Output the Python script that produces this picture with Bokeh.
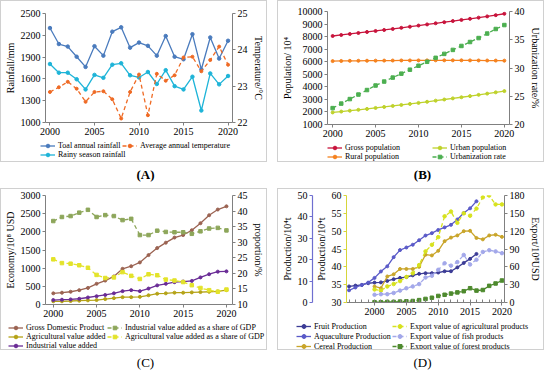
from bokeh.plotting import figure
from bokeh.models import (Range1d, LinearAxis, Legend, LegendItem, FixedTicker,
                          Div, SingleIntervalTicker)
from bokeh.layouts import row, column
from bokeh.embed import file_html
from bokeh.resources import INLINE

FONT = "Liberation Serif"

years = [2000, 2001, 2002, 2003, 2004, 2005, 2006, 2007, 2008, 2009, 2010,
         2011, 2012, 2013, 2014, 2015, 2016, 2017, 2018, 2019, 2020]
years_d = [1996, 1997, 1998, 1999, 2000, 2001, 2002, 2003, 2004, 2005, 2006,
           2007, 2008, 2009, 2010, 2011, 2012, 2013, 2014, 2015, 2016]

total_rain = [2300, 2080, 2045, 1905, 1765, 2050, 1920, 2250, 2310, 2030, 2100,
              2055, 1920, 2190, 1905, 1870, 2215, 1730, 2170, 1880, 2125]
rainy_rain = [1805, 1685, 1685, 1595, 1455, 1655, 1615, 1795, 1815, 1650, 1620,
              1695, 1530, 1720, 1500, 1455, 1630, 1165, 1675, 1525, 1640]
avg_temp = [22.84, 22.97, 23.12, 22.93, 22.57, 22.84, 22.86, 22.64, 22.11, 22.84, 23.32,
            22.20, 23.34, 23.15, 23.30, 23.79, 23.81, 23.41, 23.72, 24.09, 23.59]

gross_pop = [8050, 8130, 8210, 8290, 8370, 8450, 8530, 8610, 8700, 8790, 8880,
             8970, 9060, 9150, 9240, 9330, 9420, 9510, 9610, 9710, 9820]
rural_pop = [6050, 6060, 6070, 6075, 6080, 6085, 6090, 6095, 6100, 6100, 6105,
             6105, 6110, 6110, 6110, 6110, 6105, 6100, 6095, 6090, 6085]
urban_pop = [1960, 2030, 2100, 2170, 2240, 2320, 2400, 2480, 2560, 2640, 2720,
             2810, 2900, 2990, 3080, 3170, 3260, 3360, 3460, 3560, 3660]
urban_rate = [22.9, 23.7, 24.5, 25.3, 26.1, 26.9, 27.6, 28.3, 29.0, 29.7, 30.4,
              31.1, 31.8, 32.5, 33.2, 33.9, 34.6, 35.3, 36.1, 36.9, 37.6]

gdp = [307, 325, 351, 395, 456, 570, 658, 772, 982, 1053, 1158,
       1360, 1553, 1702, 1842, 1912, 2044, 2237, 2456, 2614, 2702]
agri_va = [88, 88, 96, 105, 114, 123, 149, 175, 202, 202, 210,
           254, 298, 307, 325, 325, 333, 342, 351, 360, 395]
ind_va = [123, 132, 140, 158, 193, 228, 263, 307, 368, 395, 368,
          439, 526, 570, 614, 632, 649, 746, 833, 904, 912]
ind_share = [36.8, 38.1, 38.4, 39.5, 40.4, 38.1, 38.7, 38.4, 37.1, 37.5, 32.3,
             32.3, 33.7, 33.3, 33.2, 33.2, 32.7, 33.5, 34.4, 34.6, 33.8]
agri_share = [24.5, 23.3, 23.1, 22.6, 21.8, 19.5, 18.5, 18.7, 20.4, 19.2, 18.2,
              19.7, 19.4, 18.0, 17.7, 17.2, 16.2, 15.3, 14.6, 14.1, 14.8]

fruit_prod = [7.5, 7.9, 8.2, 9.0, 9.3, 9.4, 10.1, 10.9, 11.5, 11.9, 12.7,
              13.4, 13.7, 13.7, 14.0, 14.6, 14.6, 16.4, 18.5, 20.4, 22.7]
aqua_prod = [5.7, 7.0, 8.2, 9.3, 11.5, 14.5, 16.9, 21.2, 24.5, 25.7, 27.0,
             29.1, 31.3, 32.4, 33.9, 35.1, 36.3, 38.8, 41.8, 44.0, 47.3]
cereal_prod = [34.5, 34.0, 37.3, 37.9, 39.4, 39.4, 39.4, 40.0, 43.4, 43.2, 44.5,
               47.2, 48.2, 48.8, 50.0, 50.1, 48.1, 47.7, 48.8, 49.0, 48.4]
agri_export = [22, 20, 27, 31, 36, 43, 49, 63, 86, 97, 110,
               145, 153, 134, 150, 146, 158, 177, 180, 165, 165]
fish_export = [13, 14, 14, 16, 20, 24, 27, 31, 42, 45, 55,
               66, 62, 68, 80, 64, 72, 85, 88, 86, 83]
forest_export = [0.5, 0.5, 1, 1, 1.5, 2, 2.5, 4, 6, 8, 11,
                 13, 15, 17, 19, 24, 20, 21, 28, 32, 37]

AX = "#808080"
W = 265
BOX_H = 160


def no_align(f):
    try:
        f.frame_align = False
    except Exception:
        pass


def style_axis(ax, ticks=None, line_color=AX):
    ax.axis_line_color = line_color
    ax.major_tick_line_color = line_color
    ax.minor_tick_line_color = None
    ax.major_tick_out = 3
    ax.major_tick_in = 0
    ax.major_label_standoff = 2
    ax.major_label_text_font = FONT
    ax.major_label_text_font_size = "10px"
    ax.major_label_text_color = "black"
    ax.axis_label_text_font = FONT
    ax.axis_label_text_font_size = "10px"
    ax.axis_label_text_font_style = "normal"
    ax.axis_label_text_color = "black"
    ax.axis_label_standoff = 2
    if ticks is not None:
        ax.ticker = FixedTicker(ticks=ticks)


def right_axis(p, rng, label, ticks):
    ax = LinearAxis(y_range_name=rng, axis_label=label)
    style_axis(ax, ticks)
    p.add_layout(ax, "right")
    return ax


def make_fig(xr, yr, height, min_top):
    p = figure(width=W, height=height, x_range=xr, y_range=yr,
               output_backend="svg", toolbar_location=None,
               min_border_top=min_top, min_border_bottom=0,
               min_border_left=5, min_border_right=5)
    p.xgrid.visible = False
    p.ygrid.visible = False
    p.outline_line_color = None
    no_align(p)
    return p


def series(p, x, y, color, dash="solid", marker="circle", size=3.5, rng="default"):
    p.line(x, y, line_color=color, line_width=1.3, line_dash=dash, y_range_name=rng)
    p.scatter(x, y, marker=marker, size=size, fill_color=color, line_color=color,
              y_range_name=rng)


def legend_fig(height, columns, rowh=9):
    """columns: list of (x_px, [(label, xs, ys, color, dash, marker, size), ...])
    The legend keys are the real series drawn in a frame whose range (0..1) keeps
    them out of view; only the legend shows."""
    lf = figure(width=W, height=height, x_range=Range1d(0, 1), y_range=Range1d(0, 1),
                output_backend="svg", toolbar_location=None,
                x_axis_type=None, y_axis_type=None,
                min_border_left=0, min_border_right=0,
                min_border_top=0, min_border_bottom=0)
    lf.xgrid.visible = False
    lf.ygrid.visible = False
    lf.outline_line_color = None
    no_align(lf)
    for x_px, entries in columns:
        items = []
        for label, xs, ys, color, dash, marker, size in entries:
            l = lf.line(xs, ys, line_color=color, line_width=1.3, line_dash=dash)
            s = lf.scatter(xs, ys, marker=marker, size=size, fill_color=color,
                           line_color=color)
            items.append(LegendItem(label=label, renderers=[l, s]))
        lg_h = 2 + rowh * len(entries)
        lg = Legend(items=items, location=(x_px, height - 2 - lg_h),
                    orientation="vertical",
                    glyph_width=15, glyph_height=rowh, label_height=rowh,
                    label_standoff=3, spacing=0, padding=1, margin=0,
                    label_text_font=FONT, label_text_font_size="8px",
                    label_text_color="black",
                    background_fill_alpha=0, border_line_color=None)
        lf.add_layout(lg)
    return lf


def panel(p, lf, cap, bold=True):
    box = column(p, column(lf), styles={"border": "1px solid #d0d0d0"})
    w = "bold" if bold else "normal"
    c = Div(text=f"<div style=\"width:253px;margin-left:14px;text-align:center;"
                 f"font-family:'Liberation Serif';font-size:13px;font-weight:{w};"
                 f"line-height:16px\">{cap}</div>",
            width=W + 2, height=16)
    return column(box, c)


# ---------------- (A) ----------------
C_TOT, C_RAIN, C_TMP = "#4a7bbd", "#1eb4d8", "#ef6a24"
LA = 24
pa = make_fig(Range1d(1999.5, 2020.5), Range1d(1000, 2500), BOX_H - LA, 12)
pa.extra_y_ranges = {"t": Range1d(22, 25)}
style_axis(pa.xaxis[0], [2000, 2005, 2010, 2015, 2020])
style_axis(pa.yaxis[0], [1000, 1300, 1600, 1900, 2200, 2500])
pa.yaxis[0].axis_label = "Rainfall/mm"
right_axis(pa, "t", "Temperature/°C", [22, 23, 24, 25])
series(pa, years, total_rain, C_TOT)
series(pa, years, rainy_rain, C_RAIN)
series(pa, years, avg_temp, C_TMP, dash="4 3", size=3, rng="t")
la = legend_fig(LA, [
    (39, [("Toal annual rainfall", years, total_rain, C_TOT, "solid", "circle", 3.5),
          ("Rainy season rainfall", years, rainy_rain, C_RAIN, "solid", "circle", 3.5)]),
    (121, [("Average annual temperature", years, avg_temp, C_TMP, "4 3", "circle", 3)]),
])

# ---------------- (B) ----------------
C_GP, C_RP, C_UP, C_UR = "#c8143c", "#f5821f", "#bfd22b", "#4caf50"
LB = 22
pb = make_fig(Range1d(1999.4, 2020.6), Range1d(1000, 10000), BOX_H - LB, 10)
pb.extra_y_ranges = {"u": Range1d(20, 40)}
style_axis(pb.xaxis[0], [2000, 2005, 2010, 2015, 2020])
style_axis(pb.yaxis[0], [1000, 2000, 3000, 4000, 5000, 6000, 7000, 8000, 9000, 10000])
pb.yaxis[0].axis_label = "Population/ 10⁴"
right_axis(pb, "u", "Urbanization rate/%", [20, 25, 30, 35, 40])
series(pb, years, gross_pop, C_GP, size=3)
series(pb, years, rural_pop, C_RP, size=3)
series(pb, years, urban_pop, C_UP, size=3)
series(pb, years, urban_rate, C_UR, dash="4 3", marker="square", size=3.5, rng="u")
lb = legend_fig(LB, [
    (49, [("Gross population", years, gross_pop, C_GP, "solid", "circle", 3),
          ("Rural population", years, rural_pop, C_RP, "solid", "circle", 3)]),
    (154, [("Urban population", years, urban_pop, C_UP, "solid", "circle", 3),
           ("Urbanization rate", years, urban_rate, C_UR, "4 3", "square", 3.5)]),
])

# ---------------- (C) ----------------
C_GDP, C_AV, C_IV, C_IS, C_AS = "#9b6352", "#b5a317", "#6a2c96", "#8da65a", "#e3e32a"
LC = 30
pc = make_fig(Range1d(1999.1, 2020.7), Range1d(0, 3000), BOX_H - LC, 6)
pc.extra_y_ranges = {"p": Range1d(10, 45)}
style_axis(pc.xaxis[0], [2000, 2005, 2010, 2015, 2020])
style_axis(pc.yaxis[0], [0, 500, 1000, 1500, 2000, 2500, 3000])
pc.yaxis[0].axis_label = "Economy/10⁸ USD"
right_axis(pc, "p", "proportion/%", [10, 15, 20, 25, 30, 35, 40, 45])
series(pc, years, gdp, C_GDP, size=3)
series(pc, years, agri_va, C_AV, size=3)
series(pc, years, ind_va, C_IV, size=3)
series(pc, years, ind_share, C_IS, dash="4 3", marker="square", size=3.5, rng="p")
series(pc, years, agri_share, C_AS, dash="4 3", marker="square", size=3.5, rng="p")
lc = legend_fig(LC, [
    (7, [("Gross Domestic Product", years, gdp, C_GDP, "solid", "circle", 3),
         ("Agricultural value added", years, agri_va, C_AV, "solid", "circle", 3),
         ("Industrial value added", years, ind_va, C_IV, "solid", "circle", 3)]),
    (106, [("Industrial value added as a share of GDP", years, ind_share, C_IS, "4 3", "square", 3.5),
           ("Agricultural value added as a share of GDP", years, agri_share, C_AS, "4 3", "square", 3.5)]),
])

# ---------------- (D) ----------------
C_FR, C_AQ, C_CE = "#3c3c96", "#5a5ac8", "#c9a52a"
C_AE, C_FE, C_FO = "#d7e21e", "#a3a8ea", "#4e8a2e"
LD = 32
pd_ = make_fig(Range1d(1995.6, 2020.4), Range1d(30, 60), BOX_H - LD, 6)
pd_.extra_y_ranges = {"o": Range1d(0, 50), "e": Range1d(0, 180)}
style_axis(pd_.xaxis[0])
pd_.xaxis[0].ticker = SingleIntervalTicker(interval=5, num_minor_ticks=5)
pd_.xaxis[0].minor_tick_line_color = AX
pd_.xaxis[0].minor_tick_in = 3
pd_.xaxis[0].minor_tick_out = 0
style_axis(pd_.yaxis[0], [30, 35, 40, 45, 50, 55, 60], line_color="#d6d63a")
pd_.yaxis[0].axis_label = "Production/10⁴t"
od = LinearAxis(y_range_name="o", axis_label="Production/10⁴t",
                ticker=FixedTicker(ticks=[0, 10, 20, 30, 40, 50]))
style_axis(od, None, line_color="#6f6fd0")
od.axis_line_width = 1.2
pd_.add_layout(od, "left")
right_axis(pd_, "e", "Export/10⁸USD", [0, 30, 60, 90, 120, 150, 180])
series(pd_, years_d, fruit_prod, C_FR, size=3, rng="o")
series(pd_, years_d, aqua_prod, C_AQ, size=3, rng="o")
series(pd_, years, cereal_prod, C_CE, size=3)
series(pd_, years, agri_export, C_AE, dash="4 3", size=3.5, rng="e")
series(pd_, years, fish_export, C_FE, dash="4 3", size=3.5, rng="e")
series(pd_, years, forest_export, C_FO, dash="4 3", marker="square", size=3.5, rng="e")
ld = legend_fig(LD, [
    (18, [("Fruit Production", years_d, fruit_prod, C_FR, "solid", "circle", 3),
          ("Aquaculture Production", years_d, aqua_prod, C_AQ, "solid", "circle", 3),
          ("Cereal Production", years, cereal_prod, C_CE, "solid", "circle", 3)]),
    (114, [("Export value of agricultural products", years, agri_export, C_AE, "4 3", "circle", 3.5),
           ("Export value of fish products", years, fish_export, C_FE, "4 3", "circle", 3.5),
           ("Export value of forest products", years, forest_export, C_FO, "4 3", "square", 3.5)]),
], rowh=10)

layout = column(
    row(panel(pa, la, "(A)"), panel(pb, lb, "(B)")),
    row(panel(pc, lc, "(C)", bold=False), panel(pd_, ld, "(D)", bold=False)),
)

open("out.html", "w").write(file_html(layout, INLINE))
